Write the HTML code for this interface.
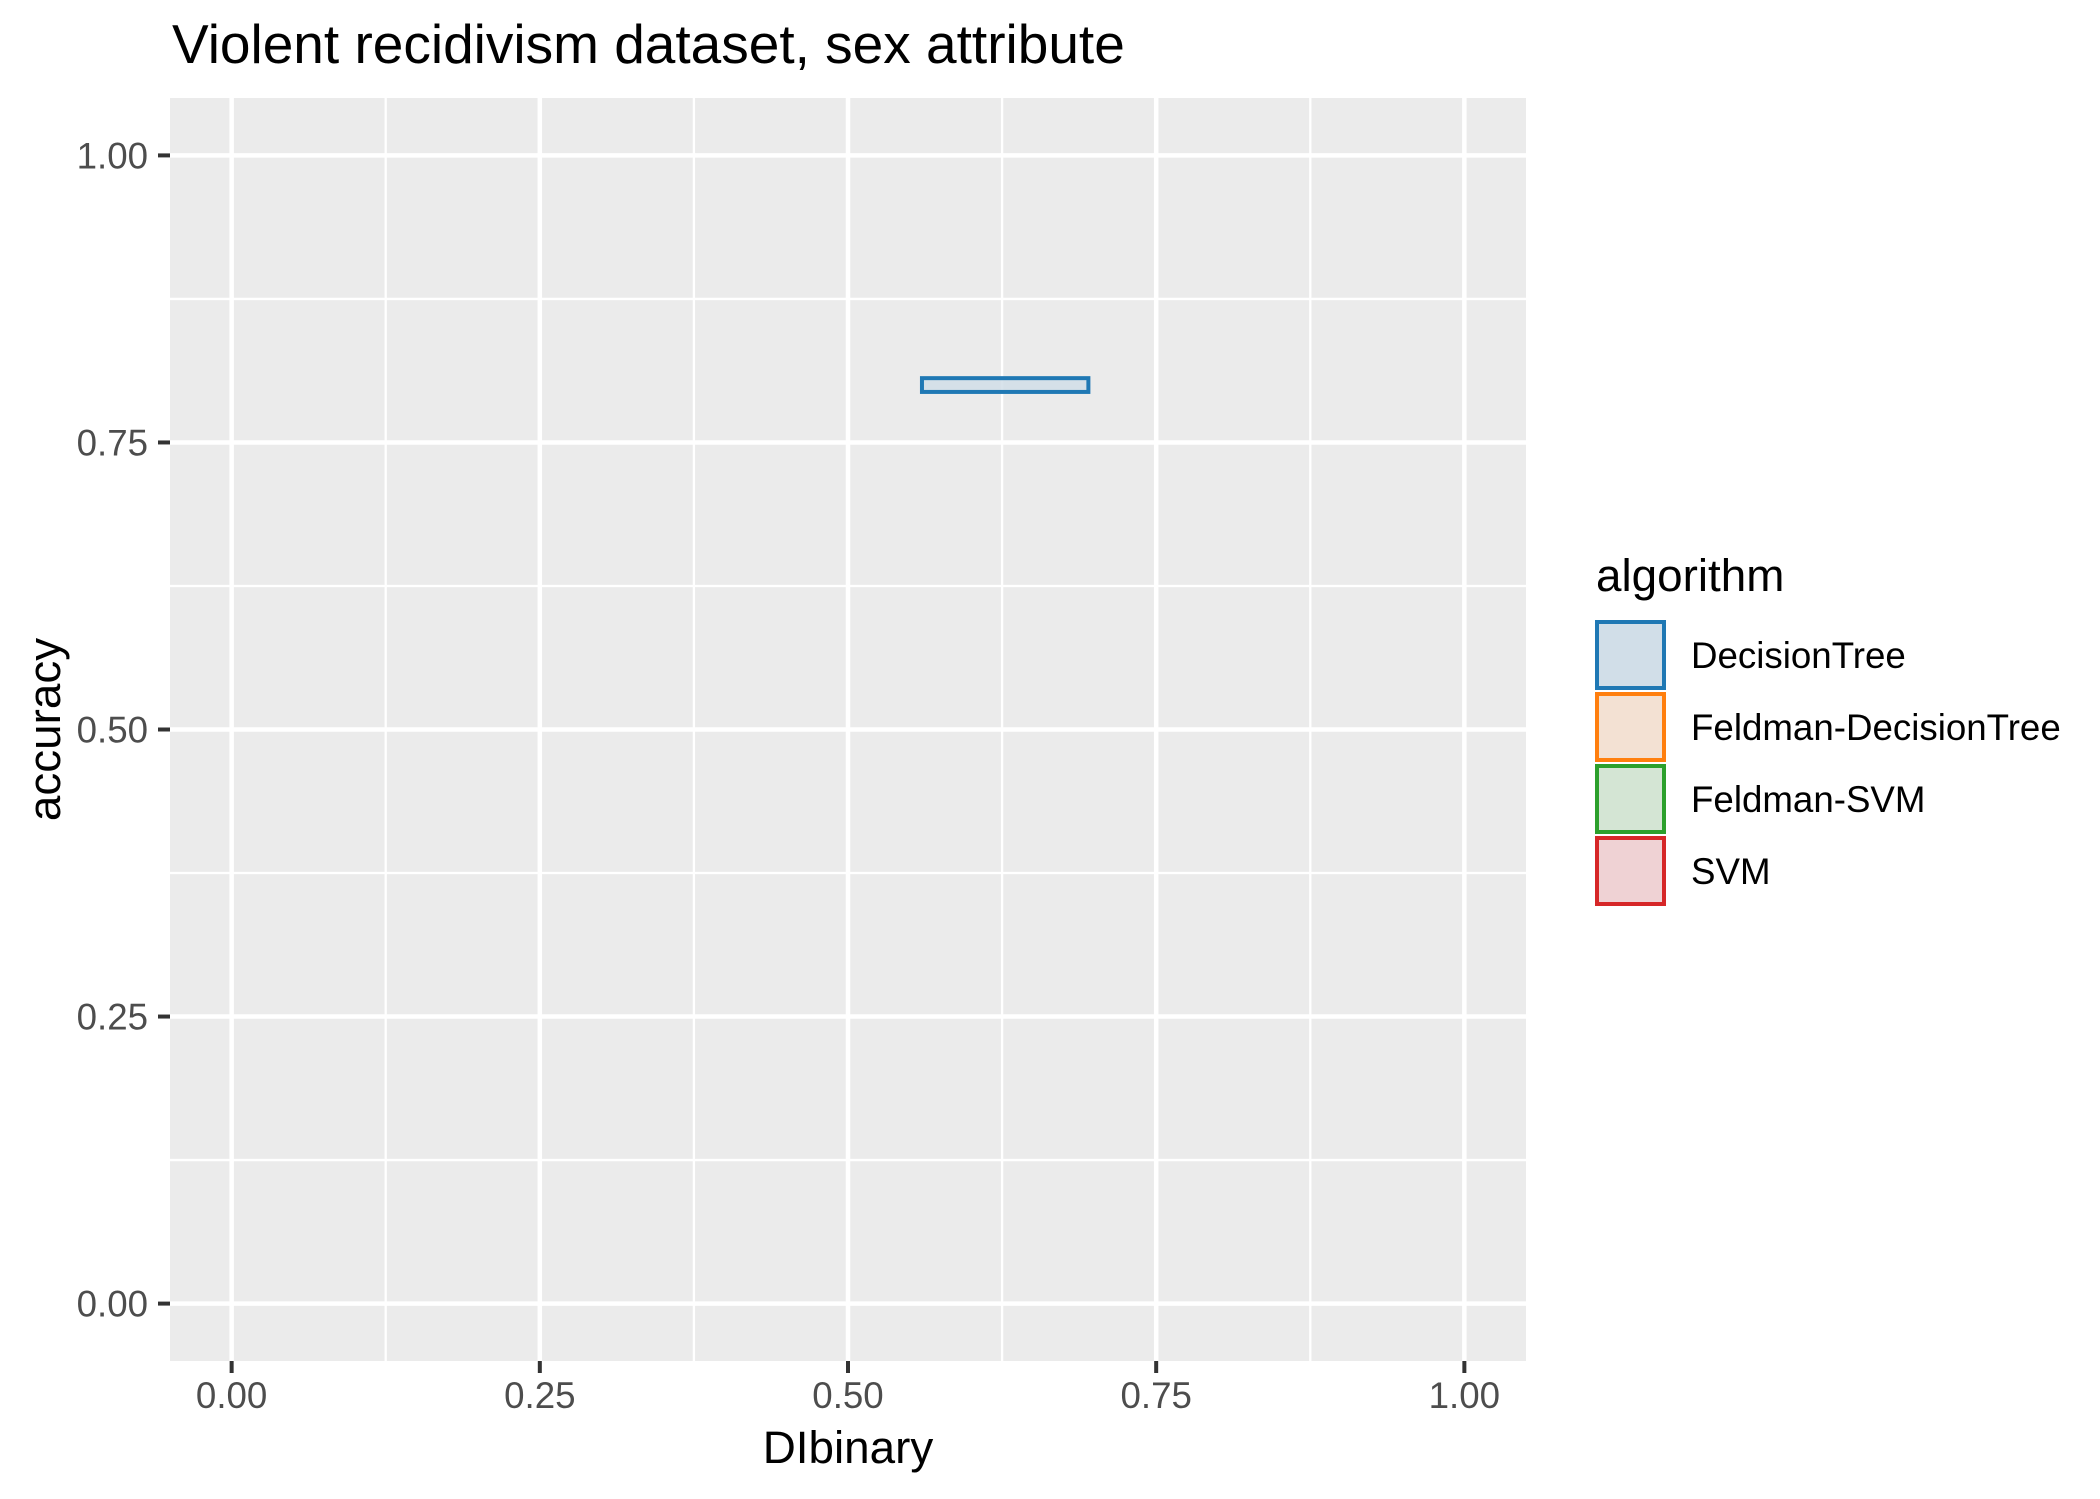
<!DOCTYPE html>
<html><head><meta charset="utf-8"><style>
html,body{margin:0;padding:0;background:#fff;}
svg{display:block;font-family:"Liberation Sans",sans-serif;}
</style></head><body>
<svg id="chart" width="2100" height="1499" viewBox="0 0 2100 1499" xmlns="http://www.w3.org/2000/svg">
<text x="172" y="63" font-size="55" fill="#000">Violent recidivism dataset, sex attribute</text>
<rect x="170" y="98" width="1356" height="1263" fill="#EBEBEB"/>
<g id="grid"></g>
<g id="marks"></g>
<g id="axes"></g>
<text x="848" y="1463" font-size="45.8" text-anchor="middle" fill="#000">DIbinary</text>
<text transform="translate(60,729.5) rotate(-90)" font-size="45.8" text-anchor="middle" fill="#000">accuracy</text>
<g id="legend">
<text x="1596" y="591" font-size="45.8" fill="#000">algorithm</text>
</g>
</svg>
<script>
const xTicks = [0, 0.25, 0.5, 0.75, 1];
const yTicks = [0, 0.25, 0.5, 0.75, 1];
const xTickLabels = ["0.00", "0.25", "0.50", "0.75", "1.00"];
const yTickLabels = ["0.00", "0.25", "0.50", "0.75", "1.00"];
const algorithms = ["DecisionTree", "Feldman-DecisionTree", "Feldman-SVM", "SVM"];
const boxAlgorithm = ["DecisionTree"];
const boxXmin = [0.56];
const boxXmax = [0.695];
const boxYmin = [0.794];
const boxYmax = [0.806];
const strokeColors = {"DecisionTree":"#1F78B4","Feldman-DecisionTree":"#FF7F0E","Feldman-SVM":"#2CA02C","SVM":"#D62728"};
const fillColors = {"DecisionTree":"#D1DEE8","Feldman-DecisionTree":"#F3E1D3","Feldman-SVM":"#D4E5D4","SVM":"#EFD2D4"};

const NS = "http://www.w3.org/2000/svg";
const PL = 170, PR = 1526, PT = 98, PB = 1361;
const X = v => PL + (v + 0.05) / 1.1 * (PR - PL);
const Y = v => PB - (v + 0.05) / 1.1 * (PB - PT);
function mk(tag, attrs, parent){const e=document.createElementNS(NS,tag);for(const k in attrs)e.setAttribute(k,attrs[k]);parent.appendChild(e);return e;}
const grid = document.getElementById('grid');
const axes = document.getElementById('axes');
const marks = document.getElementById('marks');
const legend = document.getElementById('legend');

for (let i = 0; i < xTicks.length - 1; i++) {
  const m = (xTicks[i] + xTicks[i+1]) / 2;
  const l = mk('line', {x1:X(m), x2:X(m), y1:PT, y2:PB, stroke:'#fff', 'stroke-width':2.3}, grid);
  
  
}
for (let i = 0; i < yTicks.length - 1; i++) {
  const m = (yTicks[i] + yTicks[i+1]) / 2;
  const l = mk('line', {x1:PL, x2:PR, y1:Y(m), y2:Y(m), stroke:'#fff', 'stroke-width':2.3}, grid);
  
  
}
xTicks.forEach((v, i) => {
  const l = mk('line', {x1:X(v), x2:X(v), y1:PT, y2:PB, stroke:'#fff', 'stroke-width':4.5}, grid);
  
  
  const t = mk('line', {x1:X(v), x2:X(v), y1:PB, y2:PB+12, stroke:'#333', 'stroke-width':4}, axes);
  
  
  const tx = mk('text', {x:X(v), y:1408, 'font-size':36.7, fill:'#4D4D4D', 'text-anchor':'middle'}, axes);
  tx.textContent = xTickLabels[i];
  
  
});
yTicks.forEach((v, i) => {
  const l = mk('line', {x1:PL, x2:PR, y1:Y(v), y2:Y(v), stroke:'#fff', 'stroke-width':4.5}, grid);
  
  
  const t = mk('line', {x1:PL-12, x2:PL, y1:Y(v), y2:Y(v), stroke:'#333', 'stroke-width':4}, axes);
  
  
  const tx = mk('text', {x:148, y:Y(v)+13, 'font-size':36.7, fill:'#4D4D4D', 'text-anchor':'end'}, axes);
  tx.textContent = yTickLabels[i];
  
  
});
boxAlgorithm.forEach((a, i) => {
  const r = mk('rect', {x:X(boxXmin[i]), y:Y(boxYmax[i]), width:X(boxXmax[i])-X(boxXmin[i]), height:Y(boxYmin[i])-Y(boxYmax[i]), fill:fillColors[a], 'fill-opacity':0.85, stroke:strokeColors[a], 'stroke-width':4}, marks);
  
  
});
algorithms.forEach((a, i) => {
  const y0 = 622 + i * 72;
  const k = mk('rect', {x:1597, y:y0, width:67, height:66, fill:fillColors[a], stroke:strokeColors[a], 'stroke-width':4}, legend);
  
  
  const t = mk('text', {x:1691, y:y0+46, 'font-size':36.7, fill:'#000'}, legend);
  t.textContent = a;
  
  
});
</script>
</body></html>
